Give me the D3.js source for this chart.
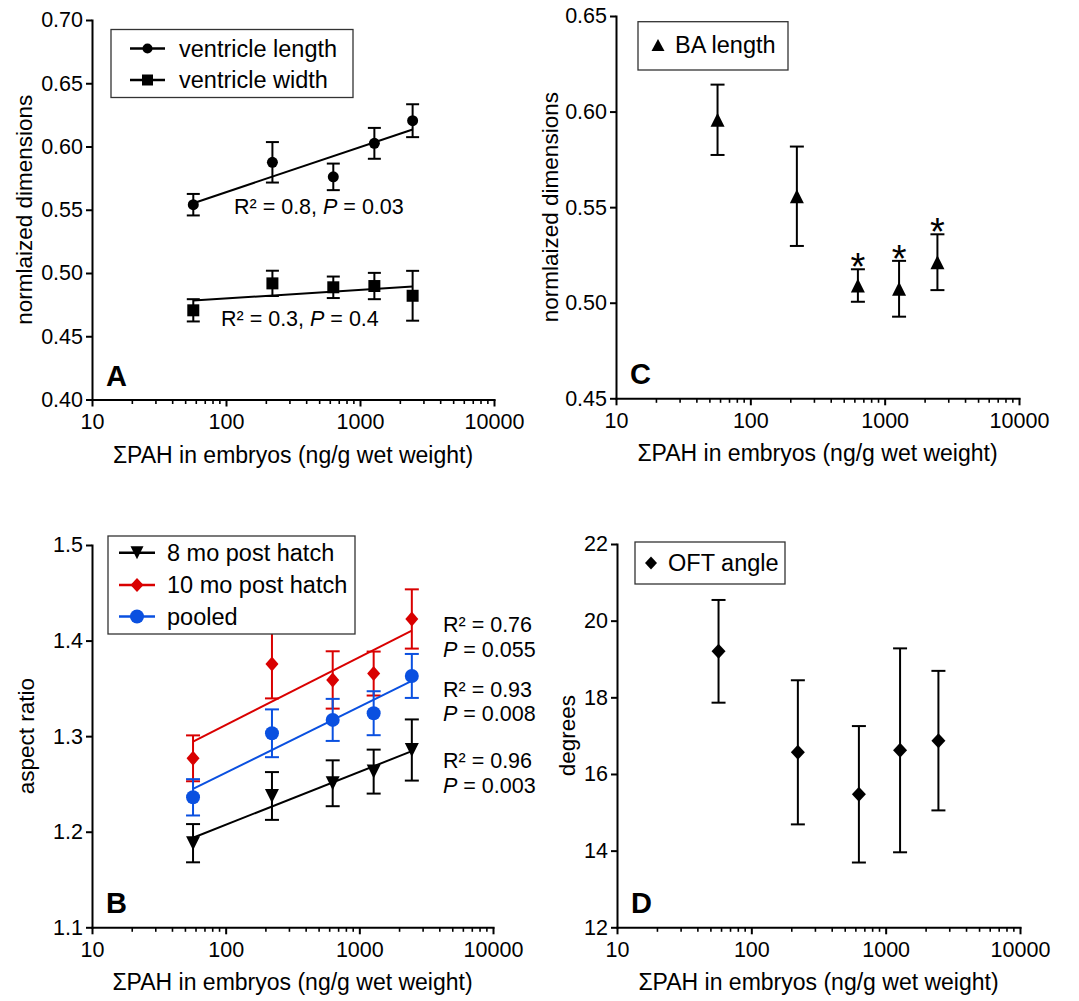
<!DOCTYPE html>
<html>
<head>
<meta charset="utf-8">
<script src="https://cdn.jsdelivr.net/npm/d3@7"></script>
<style>
	body { margin: 0; background: #fff; }
	svg { display: block; font-family: "Liberation Sans", Arial, Helvetica, sans-serif; }
</style>
</head>
<body>
<svg id="chart" width="1079" height="1001"></svg>
<script>
/* x values: sum of PAH in embryos (ng/g wet weight), one per dose group */
const pahDose = [57, 222, 632, 1280, 2470];
const xTickValues = [10, 100, 1000, 10000];
const xMinorSteps = [2, 3, 4, 5, 6, 7, 8, 9];
const xTitle = "\u03A3PAH in embryos (ng/g wet weight)";

/* panel A: ventricle dimensions */
const lengthMean = [0.554, 0.5875, 0.576, 0.6025, 0.6204];
const lengthErr = [0.0085, 0.016, 0.0105, 0.0122, 0.013];
const widthMean = [0.4705, 0.4918, 0.4887, 0.4897, 0.482];
const widthErr = [0.0088, 0.010, 0.0085, 0.0104, 0.0197];
const ticksA = [0.40, 0.45, 0.50, 0.55, 0.60, 0.65, 0.70];

/* panel B: aspect ratio */
const aspect8mo = [1.188, 1.2374, 1.2507, 1.2629, 1.2855];
const aspect8moErr = [0.020, 0.025, 0.024, 0.023, 0.032];
const aspect10mo = [1.2768, 1.3755, 1.3588, 1.3655, 1.4226];
const aspect10moErr = [0.024, 0.036, 0.030, 0.023, 0.031];
const aspectPooled = [1.236, 1.303, 1.317, 1.324, 1.363];
const aspectPooledErr = [0.019, 0.025, 0.022, 0.023, 0.023];
const ticksB = [1.1, 1.2, 1.3, 1.4, 1.5];

/* panel C: bulbus arteriosus length (* = significant) */
const baMean = [0.5957, 0.5557, 0.509, 0.5073, 0.5212];
const baErr = [0.0184, 0.026, 0.0085, 0.0146, 0.0146];
const baSignif = [false, false, true, true, true];
const ticksC = [0.45, 0.50, 0.55, 0.60, 0.65];

/* panel D: outflow tract angle */
const oftMean = [19.2, 16.565, 15.47, 16.617, 16.87];
const oftErr = [1.34, 1.88, 1.78, 2.66, 1.82];
const ticksD = [12, 14, 16, 18, 20, 22];

const RED = "#d90000";
const BLUE = "#0a50e0";

const svg = d3.select("#chart");

/* marker shapes centred on 0,0 (w = width, h = height) */
function markerPath(shape, w, h) {
	const p = d3.path();
	if (shape === "circle") {
		p.arc(0, 0, w / 2, 0, 2 * Math.PI);
	} else if (shape === "square") {
		p.rect(-w / 2, -h / 2, w, h);
	} else if (shape === "up") {
		p.moveTo(0, -h / 2); p.lineTo(w / 2, h / 2); p.lineTo(-w / 2, h / 2); p.closePath();
	} else if (shape === "down") {
		p.moveTo(0, h / 2); p.lineTo(w / 2, -h / 2); p.lineTo(-w / 2, -h / 2); p.closePath();
	} else if (shape === "diamond") {
		p.moveTo(0, -h / 2); p.lineTo(w / 2, 0); p.lineTo(0, h / 2); p.lineTo(-w / 2, 0); p.closePath();
	}
	return p.toString();
}

/* axes, labels and panel letter; returns the scales */
function drawPanel({ box, yDomain, yTicks, yFormat, yTitle, letter, titleGap = 60 }) {
	const x = d3.scaleLog().domain([10, 10000]).range([box.left, box.right]);
	const y = d3.scaleLinear().domain(yDomain).range([box.bottom, box.top]);
	const g = svg.append("g");

	const xAxis = g.append("g")
		.attr("transform", `translate(0,${box.bottom})`)
		.call(d3.axisBottom(x)
			.tickValues(xTickValues)
			.tickFormat(d3.format("d"))
			.tickSize(7)
			.tickSizeOuter(0)
			.tickPadding(7));

	// minor log ticks
	const minor = [];
	xTickValues.slice(0, -1).forEach(d => xMinorSteps.forEach(k => minor.push(d * k)));
	xAxis.selectAll(".minor")
		.data(minor)
		.join("line")
		.attr("class", "minor")
		.attr("x1", d => x(d))
		.attr("x2", d => x(d))
		.attr("y1", 0)
		.attr("y2", 4.5)
		.attr("stroke", "#000")
		.attr("stroke-width", 1.6);

	const yAxis = g.append("g")
		.attr("transform", `translate(${box.left},0)`)
		.call(d3.axisLeft(y)
			.tickValues(yTicks)
			.tickFormat(d3.format(yFormat))
			.tickSize(6)
			.tickSizeOuter(0)
			.tickPadding(3));

	[xAxis, yAxis].forEach(a => {
		a.attr("font-family", null).attr("font-size", 21.5);
		a.select(".domain").attr("stroke-width", 2).attr("stroke-linecap", "square");
		a.selectAll(".tick line").attr("stroke-width", 2);
		a.selectAll(".tick text").attr("fill", "#000");
	});

	g.append("text")
		.attr("x", (box.left + box.right) / 2)
		.attr("y", box.bottom + 63)
		.attr("text-anchor", "middle")
		.attr("font-size", 23)
		.text(xTitle);

	g.append("text")
		.attr("transform", `translate(${box.left - titleGap},${(box.top + box.bottom) / 2}) rotate(-90)`)
		.attr("text-anchor", "middle")
		.attr("font-size", 22.5)
		.text(yTitle);

	g.append("text")
		.attr("x", box.left + 14)
		.attr("y", box.bottom - 14)
		.attr("font-size", 29)
		.attr("font-weight", "bold")
		.text(letter);

	return { x, y, g };
}

/* error bars + markers for one series */
function drawSeries(p, means, errs, { shape, w, h, color = "#000", cap = 14 }) {
	const rows = pahDose.map((d, i) => ({ d, m: means[i], e: errs[i] }));
	const s = p.g.append("g").attr("stroke", color).attr("stroke-width", 2);
	rows.forEach(r => {
		const cx = p.x(r.d);
		s.append("line")
			.attr("x1", cx).attr("x2", cx)
			.attr("y1", p.y(r.m - r.e)).attr("y2", p.y(r.m + r.e));
		[r.m - r.e, r.m + r.e].forEach(v => {
			s.append("line")
				.attr("x1", cx - cap / 2).attr("x2", cx + cap / 2)
				.attr("y1", p.y(v)).attr("y2", p.y(v));
		});
	});
	p.g.append("g")
		.selectAll("path")
		.data(rows)
		.join("path")
		.attr("transform", r => `translate(${p.x(r.d)},${p.y(r.m)})`)
		.attr("d", markerPath(shape, w, h))
		.attr("fill", color);
}

/* least squares line of y on log10(x), drawn between first and last dose */
function drawFit(p, means, color = "#000") {
	const lx = pahDose.map(Math.log10);
	const mx = d3.mean(lx), my = d3.mean(means);
	const b = d3.sum(lx, (v, i) => (v - mx) * (means[i] - my)) / d3.sum(lx, v => (v - mx) ** 2);
	const fit = d => my + b * (Math.log10(d) - mx);
	const ends = [pahDose[0], pahDose[pahDose.length - 1]];
	p.g.append("path")
		.attr("d", d3.line().x(d => p.x(d)).y(d => p.y(fit(d)))(ends))
		.attr("fill", "none")
		.attr("stroke", color)
		.attr("stroke-width", 2);
}

/* legend box */
function drawLegend({ x, y, w, h, rowY, lineX, markerX, textX, entries }) {
	const g = svg.append("g");
	g.append("rect")
		.attr("x", x).attr("y", y).attr("width", w).attr("height", h)
		.attr("fill", "#fff")
		.attr("stroke", "#333")
		.attr("stroke-width", 1.3);
	entries.forEach((e, i) => {
		const cy = rowY[i];
		const color = e.color || "#000";
		if (lineX) {
			g.append("line")
				.attr("x1", lineX[0]).attr("x2", lineX[1])
				.attr("y1", cy).attr("y2", cy)
				.attr("stroke", color)
				.attr("stroke-width", 2.5);
		}
		g.append("path")
			.attr("transform", `translate(${markerX},${cy})`)
			.attr("d", markerPath(e.shape, e.w, e.h))
			.attr("fill", color);
		g.append("text")
			.attr("x", textX)
			.attr("y", cy)
			.attr("dy", "0.36em")
			.attr("font-size", 23.5)
			.text(e.label);
	});
}

/* "R² = .., P = .." annotation with italic P */
function statLabel(g, x, y, parts) {
	const t = g.append("text").attr("x", x).attr("y", y).attr("font-size", 21.5);
	parts.forEach(([txt, italic]) => {
		t.append("tspan").attr("font-style", italic ? "italic" : null).text(txt);
	});
}

/* ---------- A ---------- */
const pA = drawPanel({
	box: { left: 92, right: 494, top: 20, bottom: 399.5 },
	yDomain: [0.40, 0.70], yTicks: ticksA, yFormat: ".2f",
	yTitle: "normlaized dimensions", letter: "A"
});
drawFit(pA, lengthMean);
drawFit(pA, widthMean);
drawSeries(pA, lengthMean, lengthErr, { shape: "circle", w: 11, h: 11, cap: 13 });
drawSeries(pA, widthMean, widthErr, { shape: "square", w: 12, h: 12, cap: 13 });
statLabel(pA.g, 234, 214, [["R\u00B2 = 0.8, ", false], ["P", true], [" = 0.03", false]]);
statLabel(pA.g, 221, 326, [["R\u00B2 = 0.3, ", false], ["P", true], [" = 0.4", false]]);
drawLegend({
	x: 111, y: 29.5, w: 242, h: 68, rowY: [48.5, 80],
	lineX: [130, 165], markerX: 147.5, textX: 179,
	entries: [
		{ label: "ventricle length", shape: "circle", w: 10, h: 10 },
		{ label: "ventricle width", shape: "square", w: 11, h: 11 }
	]
});

/* ---------- C ---------- */
const pC = drawPanel({
	box: { left: 616, right: 1019, top: 16, bottom: 398.3 },
	yDomain: [0.45, 0.65], yTicks: ticksC, yFormat: ".2f",
	yTitle: "normlaized dimensions", letter: "C", titleGap: 58
});
drawSeries(pC, baMean, baErr, { shape: "up", w: 14, h: 14 });
pC.g.selectAll(".star")
	.data(pahDose.filter((d, i) => baSignif[i]))
	.join("text")
	.attr("class", "star")
	.attr("x", d => pC.x(d))
	.attr("y", d => pC.y(baMean[pahDose.indexOf(d)] + baErr[pahDose.indexOf(d)]) + 11)
	.attr("text-anchor", "middle")
	.attr("font-size", 38)
	.text("*");
drawLegend({
	x: 638, y: 21.7, w: 150, h: 48.3, rowY: [45],
	markerX: 658, textX: 675,
	entries: [{ label: "BA length", shape: "up", w: 13, h: 12 }]
});

/* ---------- B ---------- */
const pB = drawPanel({
	box: { left: 92, right: 493, top: 545, bottom: 927.3 },
	yDomain: [1.1, 1.5], yTicks: ticksB, yFormat: ".1f",
	yTitle: "aspect ratio", letter: "B", titleGap: 58
});
drawFit(pB, aspect8mo);
drawSeries(pB, aspect8mo, aspect8moErr, { shape: "down", w: 14, h: 14 });
drawFit(pB, aspect10mo, RED);
drawSeries(pB, aspect10mo, aspect10moErr, { shape: "diamond", w: 13, h: 15, color: RED });
drawFit(pB, aspectPooled, BLUE);
drawSeries(pB, aspectPooled, aspectPooledErr, { shape: "circle", w: 14, h: 14, color: BLUE });
[
	[631.7, [["R\u00B2 = 0.76", false]]],
	[656.7, [["P", true], [" = 0.055", false]]],
	[696.7, [["R\u00B2 = 0.93", false]]],
	[720.7, [["P", true], [" = 0.008", false]]],
	[767.7, [["R\u00B2 = 0.96", false]]],
	[792.7, [["P", true], [" = 0.003", false]]]
].forEach(([yy, parts]) => statLabel(pB.g, 443, yy, parts));
drawLegend({
	x: 108, y: 536, w: 247, h: 98, rowY: [552.7, 585, 616.5],
	lineX: [119, 155], markerX: 137, textX: 167,
	entries: [
		{ label: "8 mo post hatch", shape: "down", w: 13, h: 13 },
		{ label: "10 mo post hatch", shape: "diamond", w: 13, h: 14, color: RED },
		{ label: "pooled", shape: "circle", w: 14, h: 14, color: BLUE }
	]
});

/* ---------- D ---------- */
const pD = drawPanel({
	box: { left: 617, right: 1020, top: 544, bottom: 927.3 },
	yDomain: [12, 22], yTicks: ticksD, yFormat: "d",
	yTitle: "degrees", letter: "D", titleGap: 42
});
drawSeries(pD, oftMean, oftErr, { shape: "diamond", w: 14, h: 15 });
drawLegend({
	x: 635, y: 542, w: 150, h: 42, rowY: [563],
	markerX: 651, textX: 668,
	entries: [{ label: "OFT angle", shape: "diamond", w: 12, h: 13 }]
});
</script>
</body>
</html>
